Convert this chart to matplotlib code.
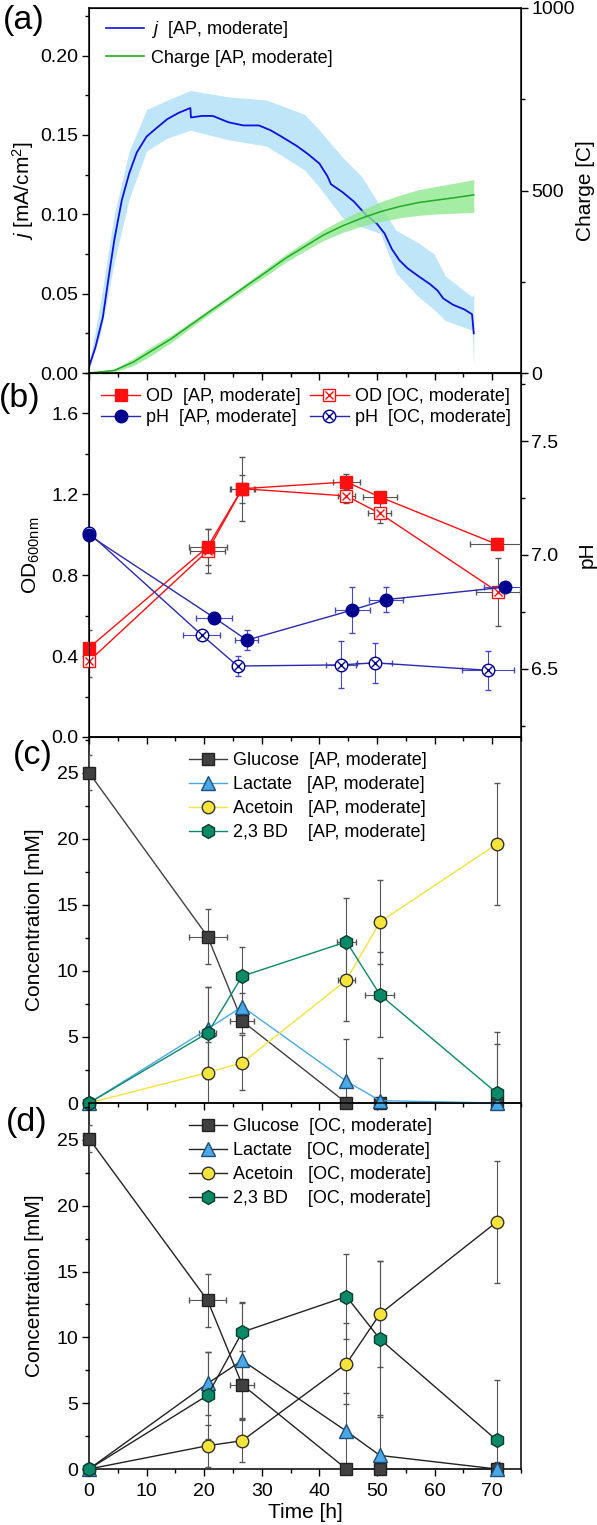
import matplotlib
matplotlib.use("Agg")
import matplotlib.pyplot as plt
from matplotlib.lines import Line2D
from matplotlib.ticker import MultipleLocator, FormatStrFormatter
from matplotlib.legend_handler import HandlerTuple

plt.rcParams['font.family'] = ['Liberation Sans', 'DejaVu Sans']
plt.rcParams['mathtext.fontset'] = 'custom'
plt.rcParams['mathtext.rm'] = 'Liberation Sans'
plt.rcParams['mathtext.it'] = 'Liberation Sans:italic'

# ---------------- data ----------------
# (a) current density and charge
t_j = [0, 1.1, 2.4, 3.4, 4.4, 5.7, 7.0, 8.3, 10.0, 11.6, 13.6, 15.6, 17.6, 17.7,
       19.6, 21.5, 24.2, 26.8, 29.5, 31.5, 33.4, 36.1, 38.0, 40.0, 41.4, 42.0,
       44.0, 46.0, 48.0, 50.0, 51.3, 52.6, 53.9, 55.3, 57.2, 59.2, 60.5, 61.5,
       63.2, 65.2, 66.5, 66.8]
j_mean = [0.004, 0.016, 0.035, 0.060, 0.084, 0.109, 0.126, 0.139, 0.149, 0.154,
          0.160, 0.164, 0.167, 0.161, 0.162, 0.162, 0.158, 0.156, 0.156, 0.153,
          0.149, 0.143, 0.138, 0.132, 0.124, 0.119, 0.114, 0.108, 0.100, 0.094,
          0.088, 0.078, 0.071, 0.066, 0.061, 0.056, 0.052, 0.047, 0.043, 0.040,
          0.037, 0.025]
t_jband = [0, 2, 4.4, 7, 10, 13.6, 17.6, 24.2, 30.8, 37.4, 40, 44, 47.3, 50.6,
           53.3, 57.2, 59.9, 61.9, 66.5, 66.8]
j_hi = [0.005, 0.045, 0.100, 0.140, 0.166, 0.172, 0.178, 0.174, 0.172, 0.163,
        0.153, 0.136, 0.124, 0.105, 0.090, 0.082, 0.075, 0.061, 0.048, 0.050]
j_lo = [0.002, 0.025, 0.070, 0.110, 0.140, 0.148, 0.153, 0.147, 0.143, 0.128,
        0.117, 0.098, 0.092, 0.088, 0.063, 0.048, 0.040, 0.033, 0.027, 0.005]

t_q = [0, 4.4, 7.7, 11, 14.3, 17.6, 20.9, 24.2, 27.5, 30.8, 34.1, 37.4, 40.7,
       44, 47.3, 50.6, 53.9, 57.2, 60.5, 63.8, 66.8]
q_mean = [0, 7, 30, 62, 94, 131, 168, 204, 241, 277, 314, 346, 378, 403, 424,
          442, 456, 467, 474, 481, 488]
q_hi = [0, 11, 40, 74, 104, 139, 175, 211, 249, 287, 325, 358, 393, 421, 446,
        469, 487, 502, 512, 521, 530]
q_lo = [0, 3, 20, 50, 84, 123, 161, 197, 233, 267, 303, 334, 363, 385, 402,
        415, 425, 432, 436, 438, 440]

# (b) OD and pH
t_od_ap = [0, 20.6, 26.6, 44.7, 50.5, 70.8]
od_ap = [0.441, 0.94, 1.228, 1.261, 1.187, 0.953]
od_ap_yerr = [0.09, 0.09, 0.158, 0.04, 0.025, 0.03]
od_ap_xerr = [0, 3.3, 2.2, 2.3, 3.0, 4.7]
t_od_oc = [0, 20.6, 26.6, 44.7, 50.5, 71.0]
od_oc = [0.375, 0.92, 1.228, 1.192, 1.106, 0.717]
od_oc_yerr = [0.08, 0.11, 0.07, 0.035, 0.05, 0.167]
od_oc_xerr = [0, 3.0, 2.0, 1.5, 2.0, 3.8]

t_ph_ap = [0, 21.7, 27.4, 45.7, 51.6, 72.3]
ph_ap = [7.087, 6.725, 6.626, 6.758, 6.804, 6.859]
ph_ap_yerr = [0.01, 0.025, 0.045, 0.10, 0.055, 0.02]
ph_ap_xerr = [0, 3.1, 2.0, 3.0, 3.0, 3.8]
t_ph_oc = [0, 19.6, 25.8, 43.7, 49.6, 69.3]
ph_oc = [7.097, 6.648, 6.512, 6.517, 6.526, 6.493]
ph_oc_yerr = [0.01, 0.015, 0.043, 0.103, 0.088, 0.087]
ph_oc_xerr = [0, 3.2, 1.0, 2.6, 3.0, 4.5]

# (c) metabolites, AP
t_met = [0, 20.6, 26.6, 44.7, 50.5, 70.8]
glc_ap = [25.0, 12.6, 6.2, 0, 0, 0]
glc_ap_yerr = [1.3, 2.1, 0.9, 0, 0, 0]
glc_ap_xerr = [0, 3.3, 2.1, 0, 0, 0]
lac_ap = [0, 5.6, 7.3, 1.65, 0.18, 0]
lac_ap_yerr = [0, 3.2, 1.0, 3.2, 3.2, 4.5]
ace_ap = [0, 2.3, 3.05, 9.3, 13.7, 19.6]
ace_ap_yerr = [0, 2.3, 2.1, 3.1, 3.2, 4.6]
ace_ap_xerr = [0, 0.5, 0.5, 1.5, 0.5, 0.5]
bd_ap = [0, 5.3, 9.6, 12.2, 8.2, 0.75]
bd_ap_yerr = [0, 3.5, 2.2, 3.3, 3.2, 4.6]
bd_ap_xerr = [0, 1.5, 0.5, 1.7, 2.5, 0.5]

# (d) metabolites, OC
glc_oc = [25.1, 12.8, 6.4, 0, 0, 0]
glc_oc_yerr = [1.0, 2.0, 2.6, 0, 0, 0]
glc_oc_xerr = [0, 3.2, 2.1, 0, 0, 0]
lac_oc = [0, 6.5, 8.25, 2.87, 1.03, 0]
lac_oc_yerr = [0, 2.4, 4.4, 2.9, 3.1, 0.5]
ace_oc = [0, 1.77, 2.15, 8.0, 11.77, 18.77]
ace_oc_yerr = [0, 1.6, 1.6, 3.1, 4.0, 4.65]
bd_oc = [0, 5.6, 10.4, 13.1, 9.87, 2.18]
bd_oc_yerr = [0, 3.3, 2.2, 3.2, 5.9, 4.6]

# ---------------- layout ----------------
W, H = 597, 1525
fig = plt.figure(figsize=(W / 100, H / 100), dpi=100)
left, right = 89, 521


def add_panel(top, bottom):
    return fig.add_axes([left / W, 1 - bottom / H, (right - left) / W, (bottom - top) / H])


TICK = 14
LAB = 15
LEG = 13
ERR = '#555555'


def style(ax, ylim, major, minor, fmt, labelbottom=False):
    ax.set_xlim(0, 75)
    ax.set_ylim(*ylim)
    ax.xaxis.set_major_locator(MultipleLocator(10))
    ax.xaxis.set_minor_locator(MultipleLocator(5))
    ax.yaxis.set_major_locator(MultipleLocator(major))
    ax.yaxis.set_minor_locator(MultipleLocator(minor))
    ax.yaxis.set_major_formatter(FormatStrFormatter(fmt))
    ax.tick_params(which='both', direction='out', top=False, right=False,
                   labelsize=TICK, labelbottom=labelbottom, width=1, pad=2.5)
    ax.tick_params(axis='x', pad=5)
    ax.tick_params(which='major', length=5)
    ax.tick_params(which='minor', length=3)
    ax.patch.set_alpha(0)
    for s in ax.spines.values():
        s.set_linewidth(1.1)


def right_axis(ax, ylim, major, minor, fmt):
    ax.set_ylim(*ylim)
    ax.yaxis.set_major_locator(MultipleLocator(major))
    ax.yaxis.set_minor_locator(MultipleLocator(minor))
    ax.yaxis.set_major_formatter(FormatStrFormatter(fmt))
    ax.tick_params(which='both', direction='out', labelsize=TICK, width=1, pad=2.5)
    ax.tick_params(which='major', length=5)
    ax.tick_params(which='minor', length=3)


def ebar(ax, x, y, yerr=None, xerr=None, color='k', lc=None, marker='s', mfc=None,
         mec='k', ms=8, ecolor=ERR, z=3):
    c = ax.errorbar(x, y, yerr=yerr, xerr=xerr, fmt='-', color=lc or color, lw=1,
                    marker=marker, mfc=mfc or color, mec=mec, ms=ms, mew=1,
                    ecolor=ecolor, elinewidth=0.8, capsize=2, capthick=0.8, zorder=z)
    # markers sitting on an axis line are drawn whole, error bars stay clipped
    c.lines[0].set_clip_on(False)
    return c


# ---------------- (a) ----------------
axa = add_panel(8, 373)
style(axa, (0, 0.23), 0.05, 0.025, '%.2f')
axa.fill_between(t_jband, j_lo, j_hi, color='#bfe5f8', lw=0)
axa.plot(t_j, j_mean, color='#1010e0', lw=1.3)
axa.set_ylabel('$j$ [mA/cm$^2$]', fontsize=LAB)
axa.yaxis.set_label_coords(-0.122, 0.5)

axq = axa.twinx()
right_axis(axq, (0, 1000), 500, 250, '%d')
axq.fill_between(t_q, q_lo, q_hi, color='#8fe88f', alpha=0.8, lw=0)
axq.plot(t_q, q_mean, color='#22aa22', lw=1.1)
axq.set_ylabel('Charge [C]', fontsize=LAB)
axq.yaxis.set_label_coords(1.128, 0.5)

hj = Line2D([], [], color='#1010e0', lw=1.2)
hq = Line2D([], [], color='#22aa22', lw=1.2)
axa.legend([hj, hq], ['$j$  [AP, moderate]', 'Charge [AP, moderate]'], loc='upper left',
           bbox_to_anchor=(0.015, 1.0), frameon=False, fontsize=LEG, handlelength=2.1,
           handletextpad=0.35, labelspacing=0.55, borderaxespad=0.2)

# ---------------- (b) ----------------
axb = add_panel(373, 737)
style(axb, (0, 1.8), 0.4, 0.2, '%.1f')
axp = axb.twinx()
right_axis(axp, (6.2, 7.8), 0.5, 0.25, '%.1f')

RED = '#ff1010'
NAVY = '#00008f'
PHL = '#2a2ab0'
ebar(axb, t_od_oc, od_oc, od_oc_yerr, od_oc_xerr, color=RED, mfc='white', mec=RED, ms=8)
axb.plot(t_od_oc, od_oc, ls='none', marker='x', color=RED, ms=6, mew=1, zorder=4, clip_on=False)
ebar(axb, t_od_ap, od_ap, od_ap_yerr, od_ap_xerr, color=RED, mec=RED, ms=8)
ebar(axp, t_ph_oc, ph_oc, ph_oc_yerr, ph_oc_xerr, color=PHL, marker='o', mfc='white',
     mec=NAVY, ms=9, ecolor='#4848c0')
axp.plot(t_ph_oc, ph_oc, ls='none', marker='x', color=NAVY, ms=6, mew=1, zorder=4, clip_on=False)
ebar(axp, t_ph_ap, ph_ap, ph_ap_yerr, ph_ap_xerr, color=NAVY, lc=PHL, marker='o', mec=NAVY,
     ms=9, ecolor='#4848c0')

axb.set_ylabel('OD$_{\\mathrm{600nm}}$', fontsize=LAB)
axb.yaxis.set_label_coords(-0.109, 0.5)
axp.set_ylabel('pH', fontsize=LAB)
axp.yaxis.set_label_coords(1.132, 0.5)

h1 = Line2D([], [], color=RED, lw=1, marker='s', ms=8, mfc=RED, mec=RED)
h2 = Line2D([], [], color=PHL, lw=1, marker='o', ms=9, mfc=NAVY, mec=NAVY)
h3 = (Line2D([], [], color=RED, lw=1, marker='s', ms=8, mfc='white', mec=RED),
      Line2D([], [], ls='none', marker='x', ms=6, color=RED, mew=1))
h4 = (Line2D([], [], color=PHL, lw=1, marker='o', ms=9, mfc='white', mec=NAVY),
      Line2D([], [], ls='none', marker='x', ms=6, color=NAVY, mew=1))
axb.legend([h1, h2, h3, h4],
           ['OD  [AP, moderate]', 'pH  [AP, moderate]', 'OD [OC, moderate]', 'pH  [OC, moderate]'],
           ncol=2, loc='upper left', bbox_to_anchor=(0.0, 0.99), frameon=False, fontsize=LEG,
           handlelength=2.2, handletextpad=0.3, labelspacing=0.2, columnspacing=0.5,
           borderaxespad=0.25, handler_map={tuple: HandlerTuple(ndivide=1)})

# ---------------- (c) & (d) ----------------
GLC = '#404040'
LAC = '#4aa8e6'
ACE = '#f5e43a'
BD = '#0a8a68'


def metabolites(ax, glc, glc_y, glc_x, lac, lac_y, ace, ace_y, ace_x, bd, bd_y, bd_x,
                tag, mono=None):
    lc = lambda c: mono or c
    ebar(ax, t_met, glc, glc_y, glc_x, color=GLC, lc=lc(GLC), marker='s', mec='#222222', ms=8.5)
    ebar(ax, t_met, lac, lac_y, None, color=LAC, lc=lc(LAC), marker='^', mec='#1d4f7a', ms=10)
    ebar(ax, t_met, ace, ace_y, ace_x, color=ACE, lc=lc(ACE), marker='o', mec='#333333', ms=9)
    ebar(ax, t_met, bd, bd_y, bd_x, color=BD, lc=lc(BD), marker='h', mec='#0b3d2c', ms=10)
    hs = [Line2D([], [], color=lc(GLC), lw=1, marker='s', ms=8.5, mfc=GLC, mec='#222222'),
          Line2D([], [], color=lc(LAC), lw=1, marker='^', ms=10, mfc=LAC, mec='#1d4f7a'),
          Line2D([], [], color=lc(ACE), lw=1, marker='o', ms=9, mfc=ACE, mec='#333333'),
          Line2D([], [], color=lc(BD), lw=1, marker='h', ms=10, mfc=BD, mec='#0b3d2c')]
    labels = ['Glucose  [%s, moderate]' % tag, 'Lactate   [%s, moderate]' % tag,
              'Acetoin   [%s, moderate]' % tag, '2,3 BD    [%s, moderate]' % tag]
    ax.legend(hs, labels, loc='upper left', bbox_to_anchor=(0.205, 0.99), frameon=False,
              fontsize=LEG, handlelength=2.1, handletextpad=0.3, labelspacing=0.38,
              borderaxespad=0.25)
    ax.set_ylabel('Concentration [mM]', fontsize=LAB)
    ax.yaxis.set_label_coords(-0.104, 0.5)


axc = add_panel(737, 1103)
style(axc, (0, 27.7), 5, 2.5, '%d')
metabolites(axc, glc_ap, glc_ap_yerr, glc_ap_xerr, lac_ap, lac_ap_yerr, ace_ap, ace_ap_yerr,
            ace_ap_xerr, bd_ap, bd_ap_yerr, bd_ap_xerr, 'AP')

axd = add_panel(1103, 1469)
style(axd, (0, 27.8), 5, 2.5, '%d', labelbottom=True)
metabolites(axd, glc_oc, glc_oc_yerr, glc_oc_xerr, lac_oc, lac_oc_yerr, ace_oc, ace_oc_yerr,
            None, bd_oc, bd_oc_yerr, None, 'OC', mono='#222222')
axd.set_xlabel('Time [h]', fontsize=LAB, labelpad=2)

# panel letters
for lab, x, y in [('(a)', 3, 20), ('(b)', -1, 399), ('(c)', 13, 756), ('(d)', 6, 1123)]:
    fig.text(x / W, 1 - y / H, lab, fontsize=24.5, ha='left', va='center')

fig.savefig('out.png', dpi=100)
